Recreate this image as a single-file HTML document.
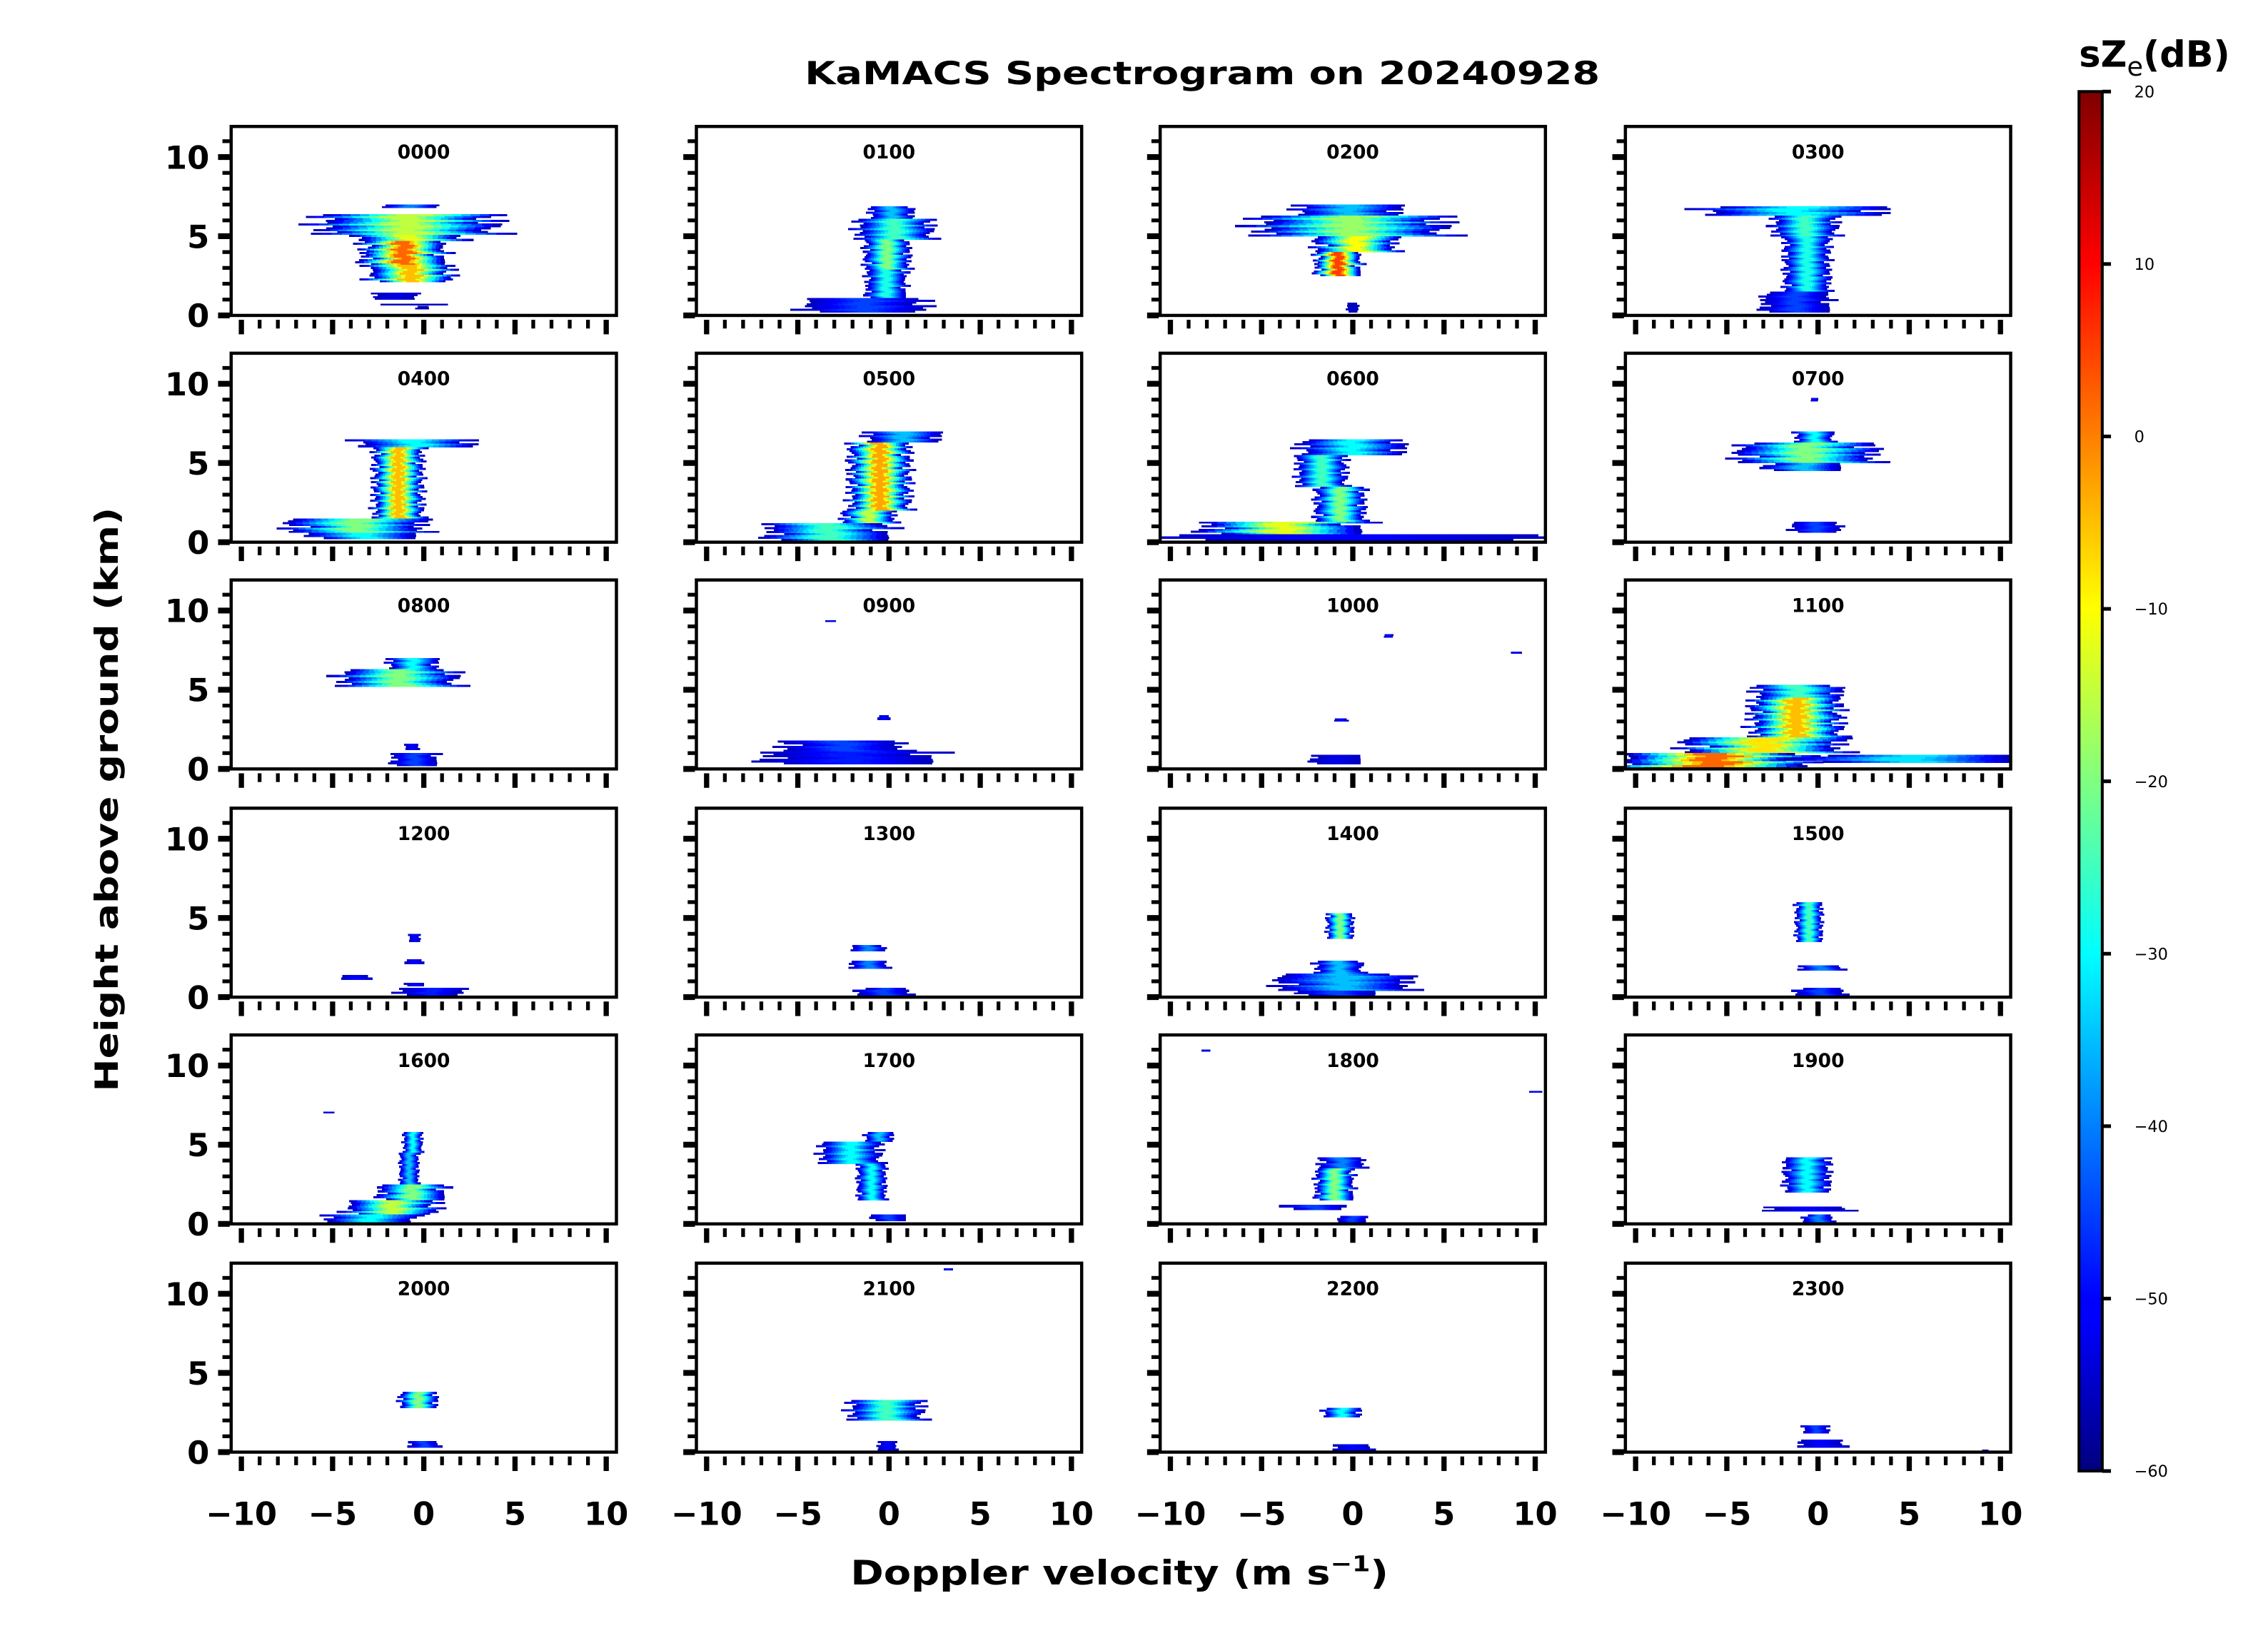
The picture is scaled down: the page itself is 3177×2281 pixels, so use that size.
<!DOCTYPE html>
<html><head><meta charset="utf-8"><style>
html,body{margin:0;padding:0;background:#fff;}
svg{display:block;font-family:"DejaVu Sans","Liberation Sans",sans-serif;}
</style></head><body>
<svg id="fig" width="3177" height="2281" viewBox="0 0 1560 1120" preserveAspectRatio="none" xmlns="http://www.w3.org/2000/svg">
<defs>
<linearGradient id="jetgrad" x1="0" y1="1" x2="0" y2="0">
<stop offset="0" stop-color="#00007f"/><stop offset="0.11" stop-color="#0000ff"/><stop offset="0.125" stop-color="#0000ff"/>
<stop offset="0.375" stop-color="#00ffff"/><stop offset="0.5" stop-color="#80ff80"/><stop offset="0.625" stop-color="#ffff00"/>
<stop offset="0.875" stop-color="#ff0000"/><stop offset="1" stop-color="#7f0000"/>
</linearGradient>
</defs>
<text x="827" y="58" text-anchor="middle" font-size="22" font-weight="bold" textLength="547" lengthAdjust="spacingAndGlyphs">KaMACS Spectrogram on 20240928</text>
<text x="770" y="1090" text-anchor="middle" font-size="23" font-weight="bold" textLength="370" lengthAdjust="spacingAndGlyphs">Doppler velocity (m s<tspan dy="-9" font-size="15">−1</tspan><tspan dy="9">)</tspan></text>
<text transform="translate(81,550) rotate(-90)" text-anchor="middle" font-size="22" font-weight="bold" textLength="402" lengthAdjust="spacingAndGlyphs">Height above ground (km)</text>
<g id="panels"></g>
<g id="cbar"></g>
</svg>
<script>
const NS="http://www.w3.org/2000/svg";
// panel labels (hours)
const panelTimes=["0000","0100","0200","0300","0400","0500","0600","0700","0800","0900","1000","1100","1200","1300","1400","1500","1600","1700","1800","1900","2000","2100","2200","2300"];
// each layer: [hBottom km, hTop km, vLeft m/s, vRight m/s, peak dB]
const layers0000=[[6.8,7.0,-2.3,0.7,-40],[5.1,6.4,-5.6,3.8,-15],[4.7,5.1,-3.5,2,-12],[3.2,4.7,-3.3,1.1,2],[2.1,3.2,-2.9,1.5,-5],[1.0,1.45,-2.7,-0.4,-52],[0.65,0.75,-2,1.3,-55],[0.4,0.6,-0.4,0.3,-57]];
const layers0100=[[6.1,6.9,-1,1.3,-35],[4.8,6.1,-1.7,2.3,-25],[2.9,4.8,-1.3,1.1,-20],[1.1,2.9,-1.2,0.9,-28],[0.2,1.1,-4.5,1.9,-45]];
const layers0200=[[6.3,7.0,-3,2.5,-35],[5.0,6.3,-5.1,4.9,-18],[4.0,5.0,-2,2.3,-10],[2.5,4.0,-2,0.4,5],[0.2,0.8,-0.3,0.3,-55]];
const layers0300=[[6.3,6.9,-6.2,3.5,-30],[5.0,6.3,-2.4,1,-25],[1.5,5.0,-1.8,0.6,-28],[0.2,1.5,-3,0.6,-45]];
const layers0400=[[6.0,6.5,-3.6,2.7,-30],[1.5,6.0,-2.7,-0.1,-5],[0.6,1.5,-7.3,-0.1,-20],[0.2,0.6,-6,-0.5,-30]];
const layers0500=[[6.3,7.0,-1.2,2.7,-35],[2.0,6.3,-2.1,1.1,-3],[1.2,2.0,-2.5,0.3,-15],[0.1,1.2,-6.5,-0.1,-25]];
const layers0600=[[5.5,6.5,-2.8,2.7,-30],[3.5,5.5,-3,-0.4,-25],[1.3,3.5,-2,0.6,-20],[0.5,1.3,-8,0.4,-12],[0.1,0.5,-10.4,10.3,-50]];
const layers0700=[[8.9,9.1,-0.4,0,-50],[6.3,7.0,-1.2,0.8,-30],[5.0,6.3,-4.3,3,-20],[4.5,5.0,-2.8,1.2,-35],[0.6,1.3,-1.4,1.2,-45]];
const layers0800=[[6.3,7.0,-1.9,0.7,-30],[5.2,6.3,-4.5,1.7,-20],[1.2,1.6,-1,-0.3,-50],[0.2,1.0,-1.7,0.7,-45]];
const layers0900=[[9.3,9.4,-3.5,-2.9,-50],[3.1,3.4,-0.6,0,-50],[1.1,1.8,-5.7,0.7,-45],[0.3,1.1,-6.6,2.3,-48]];
const layers1000=[[8.3,8.5,1.7,2.2,-50],[7.3,7.4,8.7,9.2,-50],[3.0,3.2,-1,-0.3,-50],[0.3,0.9,-2.2,0.4,-52]];
const layers1100=[[4.5,5.3,-3.4,1.2,-25],[2.0,4.5,-3.6,1.2,-5],[1.0,2.0,-7.2,1.2,-8],[0.4,0.9,-0.8,10.6,-32],[0.0,1.0,-10.6,-0.8,2]];
const layers1200=[[3.5,4.0,-0.8,-0.2,-50],[2.1,2.4,-1,-0.1,-50],[1.1,1.4,-4.5,-3,-50],[0.7,0.9,-1,0,-50],[0.1,0.6,-1.3,2.1,-48]];
const layers1300=[[2.9,3.3,-2.1,-0.2,-40],[1.8,2.3,-2.1,-0.1,-40],[0.1,0.6,-1.7,1.1,-45]];
const layers1400=[[3.7,5.3,-1.4,0,-20],[1.5,2.3,-2,0.5,-35],[0.4,1.5,-4,3,-35],[0.1,0.4,-2.8,1.2,-45]];
const layers1500=[[3.5,6.0,-1.2,0.2,-25],[1.7,2.0,-1,1.3,-40],[0.1,0.6,-1.2,1.4,-45]];
const layers1600=[[7.0,7.1,-5.5,-4.9,-50],[4.5,5.8,-1.1,-0.1,-30],[2.5,4.5,-1.3,-0.3,-35],[1.5,2.5,-2.4,1.1,-20],[0.6,1.5,-4.1,0.7,-15],[0.1,0.6,-5.3,-0.5,-30]];
const layers1700=[[5.2,5.8,-1.3,0.2,-35],[3.8,5.2,-3.7,-0.5,-30],[1.5,3.8,-1.7,-0.2,-30],[0.2,0.6,-0.9,0.9,-45]];
const layers1800=[[10.9,11.0,-8.3,-7.8,-50],[8.3,8.4,9.7,10.3,-50],[3.5,4.2,-1.8,0.6,-40],[1.5,3.5,-2,0,-20],[0.9,1.2,-3.6,-0.4,-45],[0.1,0.5,-0.8,0.8,-45]];
const layers1900=[[2.0,4.2,-1.8,0.6,-30],[0.8,1.1,-2.8,1.6,-50],[0.1,0.6,-0.8,0.8,-40]];
const layers2000=[[2.8,3.8,-1.3,0.7,-20],[0.3,0.7,-0.8,0.8,-45]];
const layers2100=[[11.5,11.6,3,3.5,-50],[2.0,3.3,-2.1,1.8,-25],[0.1,0.7,-0.6,0.4,-50]];
const layers2200=[[2.2,2.8,-1.6,0.4,-30],[0.1,0.5,-1,1,-50]];
const layers2300=[[1.2,1.7,-0.8,0.6,-45],[0.3,0.8,-1,1.4,-50],[0.1,0.15,9,9.3,-55]];
const allLayers=[layers0000,layers0100,layers0200,layers0300,layers0400,layers0500,layers0600,layers0700,layers0800,layers0900,layers1000,layers1100,layers1200,layers1300,layers1400,layers1500,layers1600,layers1700,layers1800,layers1900,layers2000,layers2100,layers2200,layers2300];
const xTicks=[-10,-5,0,5,10];
const yTicks=[0,5,10];
const cbTicks=[20,10,0,-10,-20,-30,-40,-50,-60];

const colX=[159,479,798,1118], rowY=[87,243,399,556,712,869];
const PW=265, PH=130, VMIN=-10.56, VMAX=10.56, HMAX=11.93;
const DBMIN=-60, DBMAX=20;
function jet(db){let t=(db-DBMIN)/(DBMAX-DBMIN);t=Math.max(0,Math.min(1,t));
 const c=v=>Math.round(255*Math.max(0,Math.min(1,v)));
 return `rgb(${c(1.5-Math.abs(4*t-3))},${c(1.5-Math.abs(4*t-2))},${c(1.5-Math.abs(4*t-1))})`;}
function el(tag,attrs,parent){const e=document.createElementNS(NS,tag);for(const k in attrs)e.setAttribute(k,attrs[k]);parent.appendChild(e);return e;}
const fmt=v=>v<0?"−"+Math.abs(v):String(v);
const panels=document.getElementById('panels');
const defs=document.querySelector('defs');
panelTimes.forEach((t,i)=>{
 const r=Math.floor(i/4),c=i%4,x0=colX[c],y0=rowY[r];
 const xs=v=>x0+(v-VMIN)/(VMAX-VMIN)*PW;
 const ys=h=>y0+PH-h/HMAX*PH;
 const g=el('g',{},panels);
 
 
 const cp=el('clipPath',{id:'cp'+i},defs);
 el('rect',{x:x0,y:y0,width:PW,height:PH},cp);
 const dg=el('g',{'clip-path':`url(#cp${i})`,'shape-rendering':'crispEdges'},g);
 allLayers[i].forEach((L,li)=>{
  const [h0,h1,vl,vr,pk]=L, vc=(vl+vr)/2, hw=(vr-vl)/2, N=9;
  const nsl=Math.max(1,Math.round((h1-h0)/0.12));
  const dh=(h1-h0)/nsl;
  for(let s=0;s<nsl;s++){
   const wob=1+0.14*Math.sin(s*2.7+li*1.3)+0.08*Math.sin(s*5.1+li);
   const sh=0.12*hw*Math.sin(s*1.9+li*0.7);
   const hb=h0+s*dh, ht=hb+dh;
   for(let k=0;k<N;k++){
    const f=(1-k/N*0.9)*wob, db=-55+(pk+55)*k/(N-1);
    const a=vc+sh-hw*f, b=vc+sh+hw*f;
    const rc=el('rect',{x:xs(a),y:ys(ht),width:Math.max(0.6,xs(b)-xs(a)),height:Math.max(0.6,ys(hb)-ys(ht)+0.2),fill:jet(db)},dg);
    
    
   }
  }
 });
 el('rect',{x:x0,y:y0,width:PW,height:PH,fill:'none',stroke:'#000','stroke-width':2.2},g);
 const tt=el('text',{x:x0+PW/2,y:y0+22,'text-anchor':'middle','font-size':13,'font-weight':'bold'},g);
 tt.textContent=t;
 
 
 for(let h=0;h<=12;h++){
  if(h/HMAX>1.0001)continue;
  const maj=h%5===0;
  el('line',{x1:x0-1,x2:x0-(maj?9:6),y1:ys(h),y2:ys(h),stroke:'#000','stroke-width':maj?4:2.6},g);
 }
 for(let v=-10;v<=10;v++){
  const maj=v%5===0;
  el('line',{x1:xs(v),x2:xs(v),y1:y0+PH+3,y2:y0+PH+(maj?13:9),stroke:'#000','stroke-width':maj?3.6:2.6},g);
 }
 if(c===0){yTicks.forEach(h=>{const tl=el('text',{x:x0-15,y:ys(h)+8,'text-anchor':'end','font-size':22,'font-weight':'bold'},g);tl.textContent=fmt(h);
  
  });}
 if(r===5){xTicks.forEach(v=>{const tl=el('text',{x:xs(v),y:y0+PH+50,'text-anchor':'middle','font-size':22,'font-weight':'bold'},g);tl.textContent=fmt(v);
  
  });}
});
// colorbar
const cb=document.getElementById('cbar');
const CBX=1430,CBW=16,CBT=63,CBB=1012;
const cys=d=>CBB-(d-DBMIN)/(DBMAX-DBMIN)*(CBB-CBT);
el('rect',{x:CBX,y:CBT,width:CBW,height:CBB-CBT,fill:'url(#jetgrad)',stroke:'#000','stroke-width':2},cb);
cbTicks.forEach(d=>{
 el('line',{x1:CBX+CBW,x2:CBX+CBW+6,y1:cys(d),y2:cys(d),stroke:'#000','stroke-width':2.5},cb);
 const tl=el('text',{x:CBX+CBW+22,y:cys(d)+4,'text-anchor':'start','font-size':11},cb);
 tl.textContent=fmt(d);
 
 
});
const ct=el('text',{x:1430,y:46,'font-size':25,'font-weight':'bold'},cb);
ct.innerHTML='sZ<tspan dy="6" font-size="18" font-weight="normal">e</tspan><tspan dy="-6">(dB)</tspan>';


</script>
</body></html>
